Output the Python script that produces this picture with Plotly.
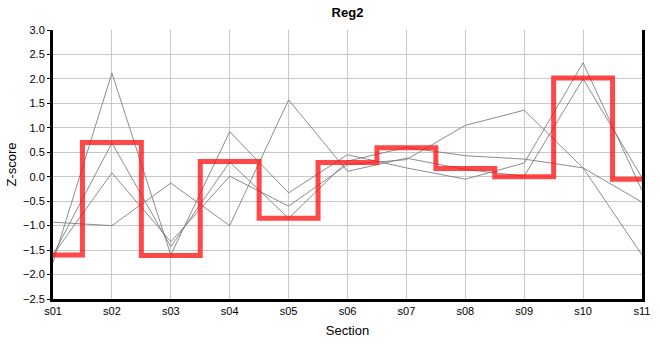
import plotly.graph_objects as go

sections = ["s01", "s02", "s03", "s04", "s05", "s06", "s07", "s08", "s09", "s10", "s11"]

series_a = [-1.75, 2.12, -1.60, 0.92, -0.33, 0.45, 0.18, -0.05, 0.28, 2.33, -0.28]
series_b = [-1.60, 0.69, -1.43, 0.30, -0.85, 0.32, 0.60, 0.43, 0.36, 0.18, -0.52]
series_c = [-1.60, 0.08, -1.33, 0.01, -0.60, 0.25, 0.35, 1.05, 1.36, 0.18, -1.60]
series_d = [-0.93, -1.00, -0.13, -1.00, 1.57, 0.11, 0.38, 0.15, 0.01, 2.00, -0.02]

reg2 = [-1.60, 0.70, -1.61, 0.31, -0.85, 0.29, 0.59, 0.17, 0.00, 2.02, -0.05]

y_ticks = [-2.5, -2.0, -1.5, -1.0, -0.5, 0.0, 0.5, 1.0, 1.5, 2.0, 2.5, 3.0]

fig = go.Figure()
for s in [series_a, series_b, series_c, series_d]:
    fig.add_trace(go.Scatter(x=sections, y=s, mode="lines",
                             line=dict(color="rgba(120,120,120,0.85)", width=1),
                             showlegend=False, hoverinfo="skip"))

fig.add_trace(go.Scatter(x=sections, y=reg2, mode="lines",
                         line=dict(color="rgba(255,20,20,0.78)", width=5, shape="hvh"),
                         showlegend=False))

fig.update_layout(
    width=660, height=360,
    margin=dict(l=50, r=10, t=30, b=61),
    paper_bgcolor="white", plot_bgcolor="white",
    font=dict(family="Liberation Sans, Arial, sans-serif", size=11, color="black"),
    title=dict(text="<b>Reg2</b>", x=0.5, xref="paper", xanchor="center",
               y=0.965, yanchor="middle", font=dict(size=13, color="black")),
    xaxis=dict(type="category", range=[0, 10], showgrid=True, gridcolor="#c8c8c8",
               gridwidth=1, showline=True, linecolor="black", linewidth=3,
               ticks="", tickfont=dict(size=11),
               title=dict(text="Section", font=dict(size=13), standoff=10),
               zeroline=False),
    yaxis=dict(range=[-2.5, 3.0], tickvals=y_ticks, tickformat=".1f",
               showgrid=True, gridcolor="#c8c8c8", gridwidth=1,
               showline=True, linecolor="black", linewidth=3, mirror=True,
               ticks="outside", ticklen=3, tickcolor="black",
               tickfont=dict(size=11),
               title=dict(text="Z-score", font=dict(size=13), standoff=4),
               zeroline=False),
)

fig.write_html("out.html")
